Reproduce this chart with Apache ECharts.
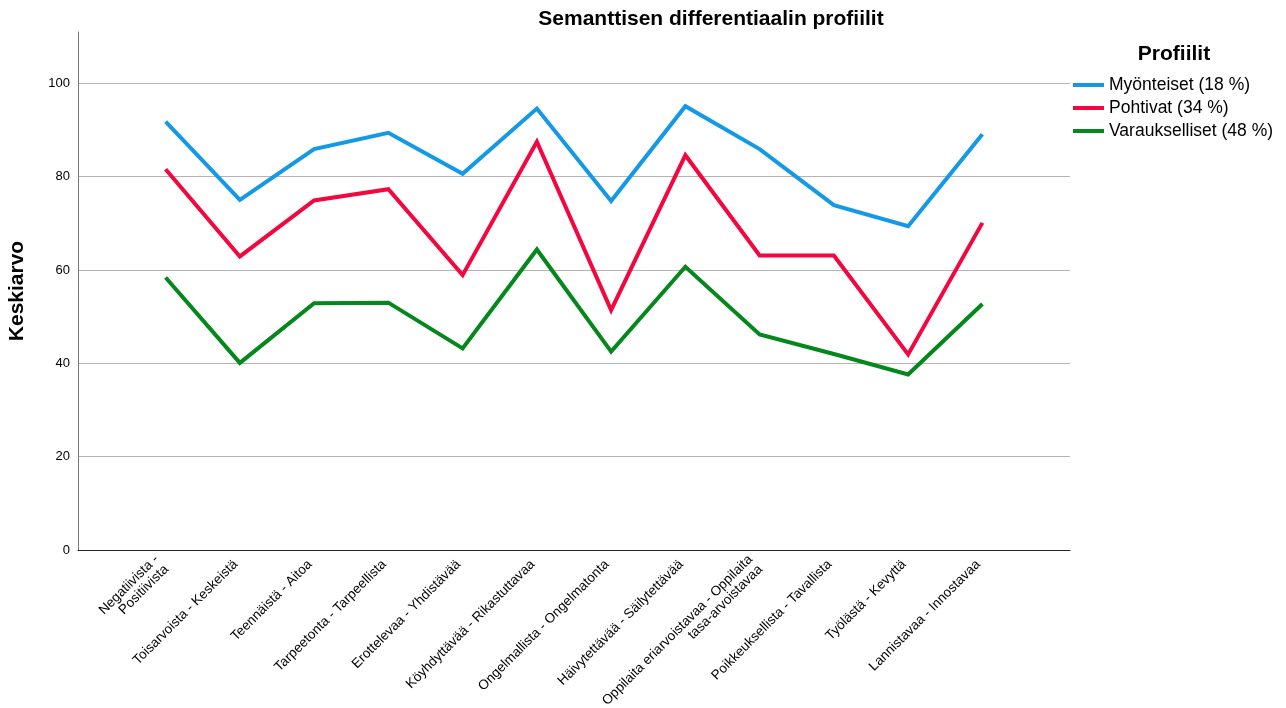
<!DOCTYPE html>
<html>
<head>
<meta charset="utf-8">
<title>Semanttisen differentiaalin profiilit</title>
<script src="https://cdn.jsdelivr.net/npm/echarts@6/dist/echarts.min.js"></script>
<style>
    html, body { margin: 0; padding: 0; background: #fff; }
    #chart { width: 1286px; height: 708px; }
</style>
</head>
<body>
<div id="chart"></div>
<script>
// Category pairs on the x axis
const categories = [
    'Negatiivista -\nPositiivista',
    'Toisarvoista - Keskeistä',
    'Teennäistä - Aitoa',
    'Tarpeetonta - Tarpeellista',
    'Erottelevaa - Yhdistävää',
    'Köyhdyttävää - Rikastuttavaa',
    'Ongelmallista - Ongelmatonta',
    'Häivytettävää - Säilytettävää',
    'Oppilaita eriarvoistavaa - Oppilaita\ntasa-arvoistavaa',
    'Poikkeuksellista - Tavallista',
    'Työlästä - Kevyttä',
    'Lannistavaa - Innostavaa'
];

const seriesNames = ['Myönteiset (18 %)', 'Pohtivat (34 %)', 'Varaukselliset (48 %)'];

const myonteiset = [91.8, 75.0, 85.9, 89.4, 80.6, 94.6, 74.8, 95.1, 85.9, 73.9, 69.4, 89.1];
const pohtivat = [81.6, 62.9, 74.9, 77.3, 58.9, 87.5, 51.4, 84.6, 63.1, 63.1, 41.9, 70.1];
const varaukselliset = [58.4, 40.1, 52.9, 53.0, 43.2, 64.4, 42.5, 60.7, 46.2, 42.0, 37.6, 52.7];

const yTicks = [0, 20, 40, 60, 80, 100];

const colors = ['#1399e6', '#f2073e', '#04871b'];
const font = 'Arial, "Liberation Sans", sans-serif';

const chart = echarts.init(document.getElementById('chart'));

// x is a value axis so the end padding can differ from half a band
const toPoints = (arr) => arr.map((v, i) => [i, v]);
const catIndex = categories.map((c, i) => i);

const makeSeries = (name, data, color) => ({
    name: name,
    type: 'line',
    data: toPoints(data),
    showSymbol: false,
    symbol: 'none',
    lineStyle: { width: 4, color: color, join: 'miter' },
    itemStyle: { color: color }
});

const option = {
    animation: false,
    textStyle: { fontFamily: font },
    title: [
        {
            text: 'Semanttisen differentiaalin profiilit',
            left: 706,
            textAlign: 'center',
            top: 4,
            textStyle: { fontSize: 21, fontWeight: 'bold', color: '#000', fontFamily: font }
        },
        {
            text: 'Profiilit',
            left: 1169,
            textAlign: 'center',
            top: 39,
            textStyle: { fontSize: 21, fontWeight: 'bold', color: '#000', fontFamily: font }
        }
    ],
    legend: {
        orient: 'vertical',
        left: 1068,
        top: 71,
        icon: 'rect',
        itemWidth: 31,
        itemHeight: 4,
        itemGap: 5,
        data: seriesNames,
        textStyle: { fontSize: 17.5, color: '#000', fontFamily: font }
    },
    grid: {
        left: 78,
        right: 216,
        top: 32,
        bottom: 158,
        containLabel: false,
        outerBoundsMode: 'none'
    },
    xAxis: {
        type: 'value',
        min: -1.18,
        max: 12.18,
        axisLine: { show: true, lineStyle: { color: '#222', width: 1 } },
        axisTick: { show: false },
        splitLine: { show: false },
        axisLabel: {
            customValues: catIndex,
            rotate: 45,
            margin: 8,
            padding: [0, 6, 0, 0],
            fontSize: 13.5,
            lineHeight: 14,
            color: '#000',
            fontFamily: font,
            formatter: (v) => categories[v]
        }
    },
    yAxis: {
        type: 'value',
        min: 0,
        max: 111,
        interval: 20,
        name: 'Keskiarvo',
        nameLocation: 'middle',
        nameGap: 50,
        nameTextStyle: { fontSize: 21, fontWeight: 'bold', color: '#000', fontFamily: font },
        axisLine: { show: true, onZero: false, lineStyle: { color: '#777', width: 1 } },
        axisTick: { show: false },
        axisLabel: {
            customValues: yTicks,
            fontSize: 13,
            margin: 8,
            color: '#000',
            fontFamily: font
        },
        splitLine: {
            show: true,
            showMinLine: false,
            showMaxLine: false,
            lineStyle: { color: '#b4b4b4', width: 1 }
        }
    },
    series: [
        makeSeries(seriesNames[0], myonteiset, colors[0]),
        makeSeries(seriesNames[1], pohtivat, colors[1]),
        makeSeries(seriesNames[2], varaukselliset, colors[2])
    ]
};

chart.setOption(option);
</script>
</body>
</html>
